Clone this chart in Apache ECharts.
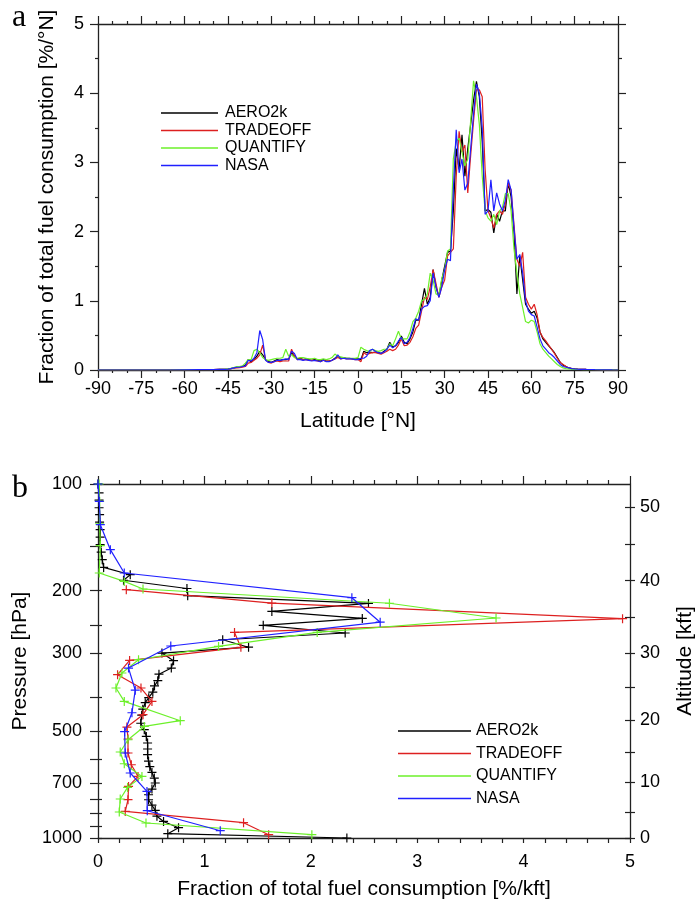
<!DOCTYPE html>
<html><head><meta charset="utf-8">
<script src="https://cdn.jsdelivr.net/npm/echarts@6/dist/echarts.min.js"></script>
<style>html,body{margin:0;padding:0;background:#fff}#c{width:696px;height:904px}</style>
</head><body><div id="c"></div>
<script>
const FONT = 'Liberation Sans, Arial, Helvetica, sans-serif';
const seriesNames = ['AERO2k', 'TRADEOFF', 'QUANTIFY', 'NASA'];
const colors = ['#000000', '#dd2020', '#6cf02a', '#2020ff'];

// ---- panel a: latitude distribution [%/°N]
const latitudes = [-90,-85,-80,-75,-70,-65,-60,-55,-50,-48,-46,
-45,-44,-43,-42,-41,-40,-39,-38,-37,-36,-35,-34,-33,-32,-31,-30,-29,-28,-27,-26,-25,-24,-23,-22,-21,-20,
-19,-18,-17,-16,-15,-14,-13,-12,-11,-10,-9,-8,-7,-6,-5,-4,-3,-2,-1,0,
1,2,3,4,5,6,7,8,9,10,11,12,13,14,15,16,17,18,19,20,21,22,23,24,25,26,27,28,29,30,
31,32,33,34,35,36,37,38,39,40,41,42,43,44,45,46,47,48,49,50,51,52,53,54,55,56,57,58,59,60,
61,62,63,64,65,66,67,68,69,70,71,72,73,74,75,76,77,78,79,80,82,85,88,90];

const latAERO2k = [0,0,0,0,0,0,0.002,0.004,0.006,0.008,0.01,
0.012,0.02,0.03,0.04,0.04,0.05,0.07,0.15,0.12,0.15,0.2,0.27,0.22,0.15,0.12,0.11,0.13,0.15,0.14,0.15,0.15,0.16,0.25,0.2,0.16,0.17,
0.15,0.16,0.15,0.14,0.15,0.14,0.13,0.15,0.13,0.13,0.14,0.17,0.2,0.17,0.18,0.17,0.17,0.16,0.16,0.16,
0.15,0.27,0.25,0.26,0.25,0.26,0.25,0.24,0.27,0.3,0.4,0.33,0.35,0.4,0.49,0.4,0.38,0.45,0.55,0.72,0.72,0.95,1.18,0.95,1.05,1.45,1.2,1.06,1.3,1.5,
1.7,1.72,2.3,3.2,2.9,3.4,2.8,3.2,3.55,3.9,4.17,3.95,3.3,2.3,2.32,2.28,1.98,2.25,2.15,2.3,2.3,2.7,2.5,2.0,1.1,1.65,1.3,0.95,0.88,0.82,
0.85,0.75,0.55,0.45,0.4,0.35,0.3,0.25,0.18,0.11,0.07,0.05,0.03,0.02,0.015,0.012,0.01,0.01,0.008,0.007,0.005,0.003,0.001,0];

const latTRADEOFF = [0,0,0,0,0,0,0.002,0.004,0.006,0.008,0.01,
0.012,0.02,0.025,0.03,0.035,0.04,0.05,0.1,0.11,0.14,0.17,0.22,0.36,0.15,0.11,0.1,0.12,0.13,0.12,0.13,0.13,0.13,0.3,0.2,0.15,0.16,
0.15,0.15,0.14,0.14,0.14,0.13,0.12,0.14,0.13,0.13,0.14,0.16,0.18,0.16,0.17,0.16,0.16,0.16,0.15,0.15,
0.12,0.25,0.22,0.24,0.25,0.25,0.24,0.23,0.25,0.27,0.3,0.28,0.3,0.36,0.45,0.35,0.36,0.4,0.48,0.6,0.65,0.85,1.05,1.02,1.2,1.45,1.25,1.05,1.2,1.3,
1.65,1.7,1.75,2.8,3.45,3.15,3.25,2.56,3.1,3.6,4.05,4.05,3.95,2.9,2.3,2.2,2.05,2.25,2.3,2.25,2.4,2.7,2.6,2.1,1.6,1.5,1.7,1.05,0.95,0.88,
0.95,0.8,0.55,0.47,0.42,0.36,0.3,0.24,0.17,0.11,0.08,0.05,0.03,0.02,0.015,0.012,0.01,0.01,0.008,0.007,0.005,0.003,0.001,0];

const latQUANTIFY = [0,0,0,0,0,0,0.002,0.004,0.006,0.008,0.012,
0.015,0.025,0.035,0.05,0.05,0.06,0.1,0.15,0.15,0.28,0.3,0.25,0.18,0.15,0.14,0.15,0.16,0.17,0.17,0.18,0.3,0.2,0.22,0.18,0.17,0.18,
0.18,0.17,0.16,0.16,0.17,0.15,0.15,0.16,0.15,0.16,0.18,0.23,0.2,0.19,0.18,0.17,0.17,0.17,0.17,0.18,
0.33,0.3,0.28,0.27,0.3,0.28,0.27,0.28,0.3,0.3,0.38,0.35,0.45,0.56,0.45,0.45,0.45,0.55,0.7,0.75,0.85,1.0,1.02,1.1,1.4,1.3,1.1,1.08,1.32,1.45,
1.72,1.75,3.05,3.3,3.35,3.15,2.95,3.05,3.6,4.18,3.95,3.55,2.8,2.3,2.2,2.15,2.25,2.1,2.3,2.35,2.55,2.55,2.3,1.75,1.4,1.1,0.9,0.7,0.68,0.72,
0.7,0.55,0.38,0.3,0.25,0.2,0.16,0.12,0.08,0.05,0.03,0.02,0.015,0.01,0.01,0.008,0.007,0.006,0.005,0.005,0.004,0.002,0.001,0];

const latNASA = [0,0,0,0,0,0,0.002,0.004,0.006,0.008,0.01,
0.012,0.02,0.03,0.04,0.04,0.05,0.06,0.14,0.13,0.17,0.25,0.57,0.44,0.14,0.11,0.11,0.12,0.14,0.14,0.15,0.16,0.15,0.27,0.24,0.15,0.15,
0.14,0.15,0.14,0.13,0.14,0.13,0.12,0.14,0.12,0.12,0.14,0.16,0.22,0.16,0.17,0.16,0.16,0.16,0.15,0.15,
0.17,0.17,0.2,0.28,0.3,0.27,0.25,0.24,0.26,0.3,0.36,0.32,0.35,0.42,0.47,0.38,0.4,0.47,0.6,0.74,0.72,0.88,0.92,0.93,1.0,1.4,1.2,1.05,1.2,1.45,
1.6,1.58,2.6,3.47,2.85,3.05,2.6,2.7,3.2,3.7,4.13,4.0,3.5,2.25,2.3,2.75,2.3,2.56,2.4,2.3,2.45,2.75,2.6,2.05,1.6,1.67,1.4,1.0,0.85,0.8,
0.78,0.62,0.45,0.35,0.3,0.25,0.22,0.18,0.13,0.08,0.05,0.04,0.03,0.02,0.015,0.012,0.01,0.01,0.008,0.007,0.005,0.003,0.001,0];

// ---- panel b: vertical distribution [x = %/kft, y = pressure hPa]
const vertAERO2k = [[0.0,100],[0.01,106.0],[0.01,111.1],[0.01,116.7],[0.015,122.1],[0.015,128.2],[0.02,134.6],[0.02,141.3],[0.02,148.4],[0.03,155.8],[0.04,163.6],[0.053,172.0],
[0.303,180.4],[0.240,187.0],[0.836,197.3],[0.843,206.8],[2.542,217.5],[1.634,229.1],[2.484,239.8],[1.553,250.8],[2.323,263.6],[1.172,275.4],[1.415,289.1],
[0.601,300.3],[0.710,315.6],[0.689,331.1],[0.573,344.5],[0.562,359.3],[0.531,372.0],[0.515,387.3],[0.477,401.5],[0.444,414.7],[0.421,432.6],[0.411,449.9],
[0.402,474.0],[0.435,494.4],[0.454,516.4],[0.466,539.0],[0.466,560.5],[0.466,581.7],[0.475,606.9],[0.487,629.0],[0.507,652.8],[0.529,677.0],[0.538,699.3],
[0.507,727.2],[0.475,754.7],[0.475,779.7],[0.507,807.9],[0.538,835.7],[0.554,867.8],[0.616,898.0],[0.757,935.2],[0.656,972.5],[2.339,1000]];

const vertTRADEOFF = [[0.266,198.9],[1.634,216.9],[4.93,240.2],[1.283,262.6],[1.343,289.4],[0.297,315.1],[0.184,345.7],[0.404,377.0],[0.507,411.3],
[0.423,448.4],[0.272,485.9],[0.282,525.3],[0.282,575.3],[0.313,620.9],[0.376,669.9],[0.287,714.8],[0.282,779.4],[0.256,841.1],[1.368,905.3],[1.604,978.8]];

const vertQUANTIFY = [[0.01,100],[0.015,112.0],[0.015,129.5],[0.022,149.4],[0.012,178.4],[0.247,188.4],[0.423,198.0],[2.739,217.2],[3.741,239.1],[2.060,262.6],
[1.133,287.6],[0.381,313.6],[0.225,341.9],[0.169,377.0],[0.247,411.3],[0.773,466.3],[0.435,484.0],[0.282,527.8],[0.209,571.6],[0.247,616.9],[0.413,669.9],
[0.278,719.5],[0.209,775.9],[0.200,844.5],[0.451,907.0],[2.010,978.8]];

const vertNASA = [[0.0,100],[0.012,112.0],[0.022,130.3],[0.116,153.3],[0.247,178.4],[2.386,209.5],[2.652,245.7],[0.684,286.8],[0.287,331.1],[0.350,382.4],
[0.319,442.8],[0.250,500.8],[0.256,575.3],[0.303,655.3],[0.460,738.6],[0.463,837.4],[1.149,953.7]];

// axis ticks/labels
const pressureTicks = [100,150,200,250,300,400,500,600,700,775,850,925,1000];
const pressureLabels = [100,200,300,500,700,1000];
const altitudeTickPressure = [1000,843.1,696.8,571.8,465.6,376.0,300.9,238.4,187.5,147.5,116.0];
const altitudeLabelPressure = [1000,696.8,465.6,300.9,187.5,116.0];
const altitudeLabelText = ['0','10','20','30','40','50'];

const latSeries = [latAERO2k, latTRADEOFF, latQUANTIFY, latNASA];
const vertSeries = [vertAERO2k, vertTRADEOFF, vertQUANTIFY, vertNASA];

const AX = '#222';
const axisLineStyle = {show: true, onZero: false, lineStyle: {color: AX, width: 1.3}};
const noLine = {show: false, onZero: false};
const labelStyle = {color: '#000', fontSize: 18, fontFamily: FONT};
const nameStyle = {color: '#000', fontSize: 21, fontFamily: FONT};

const chart = echarts.init(document.getElementById('c'), null, {renderer: 'canvas'});

const series = [];
latSeries.forEach((vals, i) => {
  series.push({
    name: seriesNames[i], type: 'line', xAxisIndex: 0, yAxisIndex: 0,
    data: latitudes.map((lat, k) => [lat, vals[k]]),
    showSymbol: false, symbol: 'none',
    lineStyle: {color: colors[i], width: 1.2},
    itemStyle: {color: colors[i]},
    animation: false, z: 2 + i
  });
});
const plus = 'path://M5,0L5,10M0,5L10,5';
vertSeries.forEach((vals, i) => {
  series.push({
    name: seriesNames[i], type: 'line', xAxisIndex: 2, yAxisIndex: 2,
    data: vals,
    symbol: plus, symbolSize: 9, showSymbol: true, clip: false,
    lineStyle: {color: colors[i], width: 1.2},
    itemStyle: {color: colors[i], borderColor: colors[i], borderWidth: 1.2},
    animation: false, z: 2 + i
  });
});

const legendCommon = {
  orient: 'vertical', icon: 'rect', itemHeight: 1.5,
  itemStyle: {borderWidth: 0},
  textStyle: {color: '#000', fontSize: 16, fontFamily: FONT, lineHeight: 16},
  selectedMode: false, data: seriesNames
};

const option = {
  animation: false,
  backgroundColor: '#fff',
  grid: [
    {left: 98, top: 24, width: 520, height: 346, containLabel: false, outerBoundsMode: 'none'},
    {left: 98, top: 484, width: 532, height: 354, containLabel: false, outerBoundsMode: 'none'}
  ],
  legend: [
    Object.assign({}, legendCommon, {left: 156, top: 100, itemWidth: 57, itemGap: 1.5,
      textStyle: Object.assign({}, legendCommon.textStyle, {padding: [0,0,0,2]})}),
    Object.assign({}, legendCommon, {left: 393, top: 718, itemWidth: 73, itemGap: 6.5,
      textStyle: Object.assign({}, legendCommon.textStyle, {padding: [0,0,0,0]})})
  ],
  graphic: [
    {type: 'text', left: 12, top: 2, style: {text: 'a', font: '32px "Liberation Serif", "DejaVu Serif", serif', fill: '#000'}},
    {type: 'text', left: 12, top: 473, style: {text: 'b', font: '32px "Liberation Serif", "DejaVu Serif", serif', fill: '#000'}}
  ],
  xAxis: [
    {type: 'value', gridIndex: 0, position: 'bottom', min: -90, max: 90, interval: 15,
     axisLine: axisLineStyle, splitLine: {show: false},
     axisTick: {show: true, length: 8, lineStyle: {color: AX, width: 1.2}},
     minorTick: {show: true, splitNumber: 3, length: 3, lineStyle: {color: AX, width: 1.2}},
     axisLabel: Object.assign({margin: 10}, labelStyle),
     name: 'Latitude [°N]', nameLocation: 'middle', nameGap: 41, nameTextStyle: nameStyle},
    {type: 'value', gridIndex: 0, position: 'top', min: -90, max: 90, interval: 15,
     axisLine: axisLineStyle, splitLine: {show: false},
     axisTick: {show: true, length: 8, lineStyle: {color: AX, width: 1.2}},
     minorTick: {show: true, splitNumber: 3, length: 3, lineStyle: {color: AX, width: 1.2}},
     axisLabel: {show: false}},
    {type: 'value', gridIndex: 1, position: 'bottom', min: 0, max: 5, interval: 1,
     axisLine: axisLineStyle, splitLine: {show: false},
     axisTick: {show: true, length: 5, lineStyle: {color: AX, width: 1.2}},
     minorTick: {show: true, splitNumber: 5, length: 5, lineStyle: {color: AX, width: 1.2}},
     axisLabel: Object.assign({margin: 15}, labelStyle),
     name: 'Fraction of total fuel consumption [%/kft]', nameLocation: 'middle', nameGap: 41, nameTextStyle: nameStyle},
    {type: 'value', gridIndex: 1, position: 'top', min: 0, max: 5, interval: 1,
     axisLine: axisLineStyle, splitLine: {show: false},
     axisTick: {show: true, length: 8, lineStyle: {color: AX, width: 1.2}},
     minorTick: {show: true, splitNumber: 5, length: 4, lineStyle: {color: AX, width: 1.2}},
     axisLabel: {show: false}}
  ],
  yAxis: [
    {type: 'value', gridIndex: 0, position: 'left', min: 0, max: 5, interval: 1,
     axisLine: axisLineStyle, splitLine: {show: false},
     axisTick: {show: true, length: 8, lineStyle: {color: AX, width: 1.2}},
     minorTick: {show: true, splitNumber: 2, length: 3, lineStyle: {color: AX, width: 1.2}},
     axisLabel: Object.assign({margin: 14}, labelStyle),
     name: 'Fraction of total fuel consumption [%/°N]', nameLocation: 'middle', nameGap: 40, nameTextStyle: nameStyle},
    {type: 'value', gridIndex: 0, position: 'right', min: 0, max: 5, interval: 1,
     axisLine: axisLineStyle, splitLine: {show: false},
     axisTick: {show: true, length: 8, lineStyle: {color: AX, width: 1.2}},
     minorTick: {show: true, splitNumber: 2, length: 4, lineStyle: {color: AX, width: 1.2}},
     axisLabel: {show: false}},
    {type: 'log', logBase: 10, gridIndex: 1, position: 'left', min: 100, max: 1000, inverse: true,
     axisLine: axisLineStyle, splitLine: {show: false},
     axisTick: {show: true, length: 8, customValues: pressureTicks, lineStyle: {color: AX, width: 1.2}},
     axisLabel: Object.assign({margin: 16, customValues: pressureLabels, formatter: v => String(Math.round(v))}, labelStyle),
     name: 'Pressure [hPa]', nameLocation: 'middle', nameGap: 64, nameTextStyle: nameStyle},
    {type: 'log', logBase: 10, gridIndex: 1, position: 'left', min: 100, max: 1000, inverse: true,
     axisLine: noLine, splitLine: {show: false},
     axisTick: {show: true, inside: true, length: 4, customValues: pressureTicks, lineStyle: {color: AX, width: 1.2}},
     axisLabel: {show: false}},
    {type: 'log', logBase: 10, gridIndex: 1, position: 'right', min: 100, max: 1000, inverse: true,
     axisLine: axisLineStyle, splitLine: {show: false},
     axisTick: {show: true, length: 5, customValues: altitudeTickPressure, lineStyle: {color: AX, width: 1.2}},
     axisLabel: Object.assign({margin: 10, customValues: altitudeLabelPressure,
       formatter: v => {
         let best = 0, bd = Infinity;
         altitudeLabelPressure.forEach((p, k) => { const d = Math.abs(p - v); if (d < bd) { bd = d; best = k; } });
         return altitudeLabelText[best];
       }}, labelStyle),
     name: 'Altitude [kft]', nameLocation: 'middle', nameGap: 45, nameTextStyle: nameStyle},
    {type: 'log', logBase: 10, gridIndex: 1, position: 'right', min: 100, max: 1000, inverse: true,
     axisLine: noLine, splitLine: {show: false},
     axisTick: {show: true, inside: true, length: 5, customValues: altitudeTickPressure, lineStyle: {color: AX, width: 1.2}},
     axisLabel: {show: false}}
  ],
  series: series
};
chart.setOption(option);
</script>
</body></html>
